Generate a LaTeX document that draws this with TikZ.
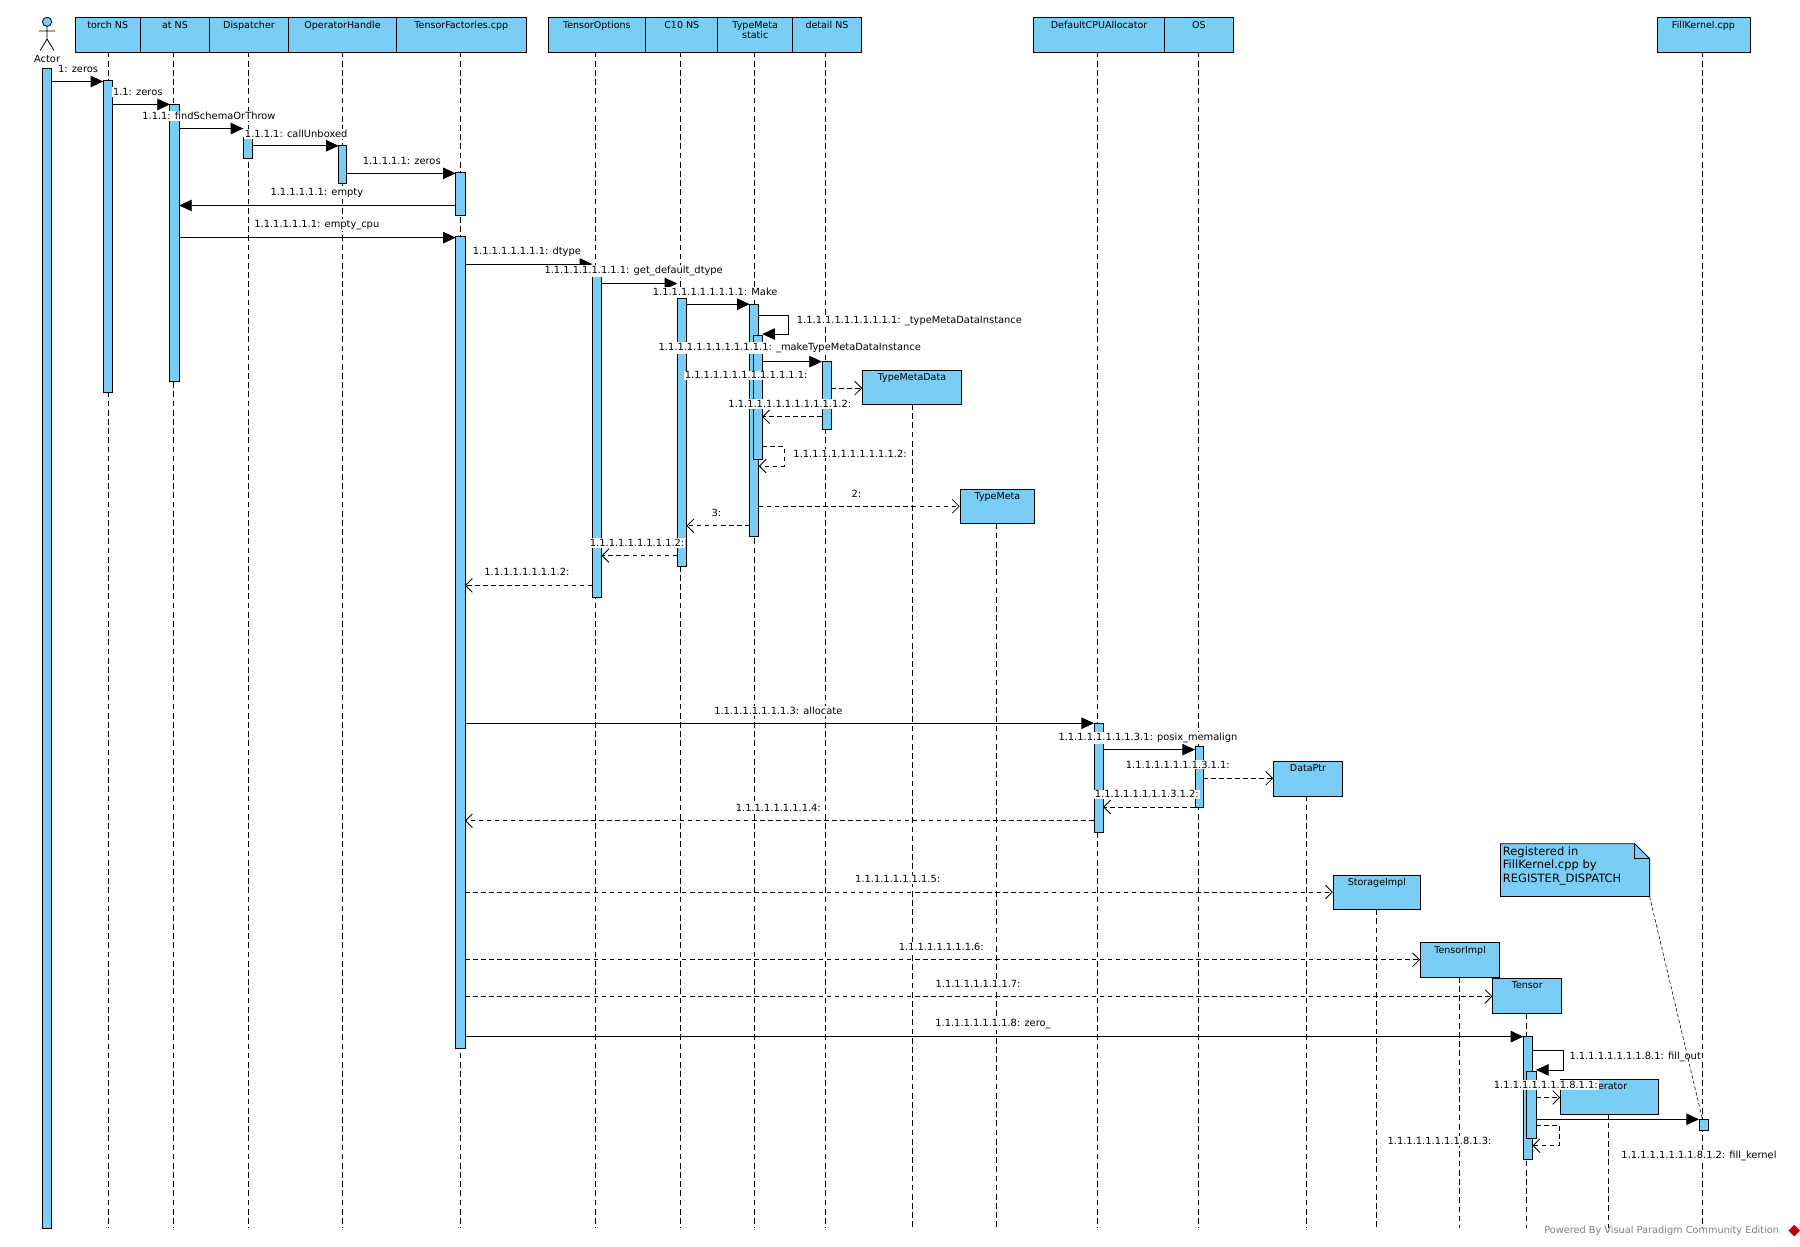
\documentclass[tikz,border=0pt]{standalone}
\usepackage{fontspec}
\setmainfont{DejaVu Sans}
\usetikzlibrary{arrows.meta,shapes.misc}
\definecolor{vp}{RGB}{122,206,245}
\tikzset{
  hdr/.style={draw,fill=vp,line width=0.8pt,minimum height=30pt,inner sep=1pt,anchor=north west,text depth=17pt,align=center,font=\fontsize{8.3}{9}\selectfont},
  obj/.style={draw,fill=vp,line width=0.8pt,minimum height=30pt,anchor=north west,text depth=18pt,inner sep=1pt,font=\fontsize{8.3}{9}\selectfont},
  life/.style={dash pattern=on 5pt off 3pt,line width=0.6pt},
  act/.style={draw,fill=vp,line width=0.7pt},
  call/.style={line width=0.7pt,-{Triangle[length=11pt,width=10pt]}},
  ret/.style={line width=0.7pt,dash pattern=on 4pt off 3pt,-{Straight Barb[length=6pt,width=12pt]}},
  lbl/.style={fill=white,inner sep=1pt,font=\fontsize{8.6}{9.5}\selectfont}
}
\begin{document}
\begin{tikzpicture}[x=1pt,y=-1pt]
\path[use as bounding box,fill=white] (0,0) rectangle (1568,1086);
% headers
\node[hdr,minimum width=57pt] (torch) at (65,15) {torch NS};
\node[hdr,minimum width=60pt] (at) at (122,15) {at NS};
\node[hdr,minimum width=69pt] (disp) at (182,15) {Dispatcher};
\node[hdr,minimum width=94pt] (oph) at (251,15) {OperatorHandle};
\node[hdr,minimum width=113pt] (tf) at (345,15) {TensorFactories.cpp};
\node[hdr,minimum width=85pt] (topt) at (477,15) {TensorOptions};
\node[hdr,minimum width=63pt] (c10) at (562,15) {C10 NS};
\node[hdr,minimum width=65pt,text depth=8pt] (tm) at (625,15) {TypeMeta\\static};
\node[hdr,minimum width=60pt] (det) at (690,15) {detail NS};
\node[hdr,minimum width=114pt] (dca) at (900,15) {DefaultCPUAllocator};
\node[hdr,minimum width=60pt] (os) at (1014,15) {OS};
\node[hdr,minimum width=81pt] (fk) at (1443,15) {FillKernel.cpp};
% actor
\draw[fill=vp,line width=0.7pt] (41,19) circle (4pt);
\draw[line width=0.7pt] (41,23)--(41,34) (34,27)--(48,27) (35,44)--(41,34)--(47,44);
\node[lbl,fill=none,inner sep=0pt] (actor) at (41,51) {Actor};
% created objects
\node[obj,minimum width=86pt] (tmd) at (751,322) {TypeMetaData};
\node[obj,minimum width=65pt] (tmo) at (836,426) {TypeMeta};
\node[obj,minimum width=60pt] (dp) at (1109,663) {DataPtr};
\node[obj,minimum width=76pt] (si) at (1161,762) {StorageImpl};
\node[obj,minimum width=69pt] (ti) at (1237,821) {TensorImpl};
\node[obj,minimum width=60pt] (tn) at (1300,852) {Tensor};
\node[obj,minimum width=85pt] (it) at (1359,940) {Iterator};
% lifelines
\foreach \n/\x in {torch/94,at/151,disp/216,oph/298,tf/401,topt/519,c10/593,tm/657,det/719,dca/956,os/1044,fk/1483}
  \draw[life] (\x,45) -- (\x,1070);
\foreach \n/\x/\y in {tmd/795/352,tmo/868/456,dp/1138/693,si/1199/792,ti/1271/851,tn/1330/883,it/1401/970}
  \draw[life] (\x,\y) -- (\x,1070);
% activations
\draw[act] (37,60) rectangle (45,1070);
\draw[act] (90,70) rectangle (98,342);
\draw[act] (148,91) rectangle (156,332);
\draw[act] (212,120) rectangle (220,138);
\draw[act] (295,127) rectangle (302,160);
\draw[act] (397,150) rectangle (405,188);
\draw[act] (397,206) rectangle (405,913);
\draw[act] (516,240) rectangle (524,520);
\draw[act] (590,260) rectangle (598,493);
\draw[act] (653,265) rectangle (661,467);
\draw[act] (656,292) rectangle (664,400);
\draw[act] (716,315) rectangle (724,374);
\draw[act] (953,630) rectangle (961,725);
\draw[act] (1041,650) rectangle (1048,703);
\draw[act] (1327,903) rectangle (1335,1010);
\draw[act] (1330,933) rectangle (1338,992);
\draw[act] (1480,975) rectangle (1488,985);
% messages
\draw[call] (45,71)--(90,71);
\draw[call] (98,91)--(148,91);
\draw[call] (156,112)--(212,112);
\draw[call] (220,127)--(295,127);
\draw[call] (302,151)--(397,151);
\draw[call] (397,179)--(156,179);
\draw[call] (156,207)--(397,207);
\draw[call] (405,230)--(516,230);
\draw[call] (524,247)--(590,247);
\draw[call] (598,265)--(653,265);
\draw[call] (661,275)--(687,275)--(687,291)--(664,291);
\draw[call] (664,315)--(716,315);
\draw[ret] (724,338)--(751,338);
\draw[ret] (716,363)--(664,363);
\draw[ret] (664,389)--(683,389)--(683,406)--(661,406);
\draw[ret] (661,441)--(836,441);
\draw[ret] (653,458)--(598,458);
\draw[ret] (590,484)--(524,484);
\draw[ret] (516,510)--(405,510);
\draw[call] (405,630)--(953,630);
\draw[call] (961,653)--(1041,653);
\draw[ret] (1048,678)--(1109,678);
\draw[ret] (1041,703)--(961,703);
\draw[ret] (953,715)--(405,715);
\draw[ret] (405,777)--(1161,777);
\draw[ret] (405,836)--(1237,836);
\draw[ret] (405,868)--(1300,868);
\draw[call] (405,903)--(1327,903);
\draw[call] (1335,915)--(1362,915)--(1362,932)--(1338,932);
\draw[ret] (1338,956)--(1359,956);
\draw[call] (1338,975)--(1480,975);
\draw[ret] (1338,980)--(1358,980)--(1358,998)--(1335,998);
% labels
\node[lbl] (l1) at (68,60) {1: zeros};
\node[lbl] (l2) at (120,80) {1.1: zeros};
\node[lbl] (l3) at (182,101) {1.1.1: findSchemaOrThrow};
\node[lbl] (l4) at (258,117) {1.1.1.1: callUnboxed};
\node[lbl] (l5) at (350,140) {1.1.1.1.1: zeros};
\node[lbl] (l6) at (276,168) {1.1.1.1.1.1: empty};
\node[lbl] (l7) at (276,196) {1.1.1.1.1.1.1: empty\_cpu};
\node[lbl] (l8) at (459,219) {1.1.1.1.1.1.1.1: dtype};
\node[lbl] (l9) at (552,236) {1.1.1.1.1.1.1.1.1: get\_default\_dtype};
\node[lbl] (l10) at (623,254) {1.1.1.1.1.1.1.1.1.1: Make};
\node[lbl,anchor=west] (l11) at (693,280) {1.1.1.1.1.1.1.1.1.1.1: \_typeMetaDataInstance};
\node[lbl] (l12) at (688,303) {1.1.1.1.1.1.1.1.1.1.1.1: \_makeTypeMetaDataInstance};
\node[lbl] (l13) at (650,327) {1.1.1.1.1.1.1.1.1.1.1.1.1:};
\node[lbl] (l14) at (688,352) {1.1.1.1.1.1.1.1.1.1.1.1.2:};
\node[lbl,anchor=west] (l15) at (690,395) {1.1.1.1.1.1.1.1.1.1.1.2:};
\node[lbl] (l16) at (746,430) {2:};
\node[lbl] (l17) at (624,447) {3:};
\node[lbl] (l18) at (555,473) {1.1.1.1.1.1.1.1.1.2:};
\node[lbl] (l19) at (459,498) {1.1.1.1.1.1.1.1.2:};
\node[lbl] (l20) at (678,619) {1.1.1.1.1.1.1.1.3: allocate};
\node[lbl] (l21) at (1000,643) {1.1.1.1.1.1.1.1.3.1: posix\_memalign};
\node[lbl] (l22) at (1026,666) {1.1.1.1.1.1.1.1.3.1.1:};
\node[lbl] (l23) at (999,692) {1.1.1.1.1.1.1.1.3.1.2:};
\node[lbl] (l24) at (678,704) {1.1.1.1.1.1.1.1.4:};
\node[lbl] (l25) at (782,766) {1.1.1.1.1.1.1.1.5:};
\node[lbl] (l26) at (820,825) {1.1.1.1.1.1.1.1.6:};
\node[lbl] (l27) at (852,857) {1.1.1.1.1.1.1.1.7:};
\node[lbl] (l28) at (865,892) {1.1.1.1.1.1.1.1.8: zero\_};
\node[lbl,anchor=west] (l29) at (1366,921) {1.1.1.1.1.1.1.1.8.1: fill\_out};
\node[lbl,anchor=east] (l30) at (1393,945) {1.1.1.1.1.1.1.1.8.1.1:};
\node[lbl] (l31) at (1480,1007) {1.1.1.1.1.1.1.1.8.1.2: fill\_kernel};
\node[lbl] (l32) at (1254,994) {1.1.1.1.1.1.1.1.8.1.3:};
% note
\draw[fill=vp,line width=0.7pt] (1307,735)--(1424,735)--(1437,748)--(1437,781)--(1307,781)--cycle;
\draw[line width=0.6pt] (1424,735)--(1424,748)--(1437,748);
\node[anchor=north west,align=left,inner sep=1pt,font=\fontsize{10}{12}\selectfont] (note) at (1308,736) {Registered in\\FillKernel.cpp by\\REGISTER\_DISPATCH};
\draw[dash pattern=on 3pt off 2pt,line width=0.5pt] (1437,781)--(1483,975);
\node[text=gray,anchor=east,inner sep=0pt,font=\fontsize{8.5}{9}\selectfont] (wm) at (1550,1072) {Powered By Visual Paradigm Community Edition};
\fill[red!75!black] (1558,1072) -- ++(5,-5) -- ++(5,5) -- ++(-5,5) -- cycle;
\end{tikzpicture}
\end{document}
